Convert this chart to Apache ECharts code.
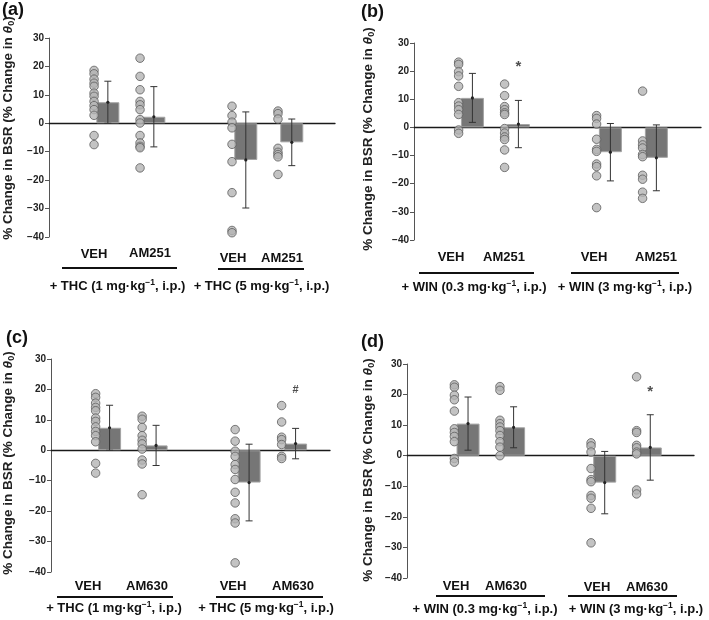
<!DOCTYPE html>
<html>
<head>
<meta charset="utf-8">
<script src="https://cdn.jsdelivr.net/npm/echarts@6/dist/echarts.min.js"></script>
<style>html,body{margin:0;padding:0;background:#fff}#c{width:709px;height:620px}</style>
</head>
<body>
<div id="c"></div>
<script>
// ---------- DATA ----------
const positions = [1, 2, 4, 5];
const tickValues = [-40, -30, -20, -10, 0, 10, 20, 30];

// Panel (a): THC + AM251
const a_veh1 = [18.6, 17.4, 15.5, 14.1, 13.0, 10.6, 9.5, 7.7, 6.2, 4.8, 2.8, -4.3, -7.5];
const a_am1  = [22.9, 16.5, 11.8, 7.7, 6.5, 4.8, 1.3, 0.1, -4.3, -6.9, -8.1, -8.6, -15.7];
const a_veh2 = [6.0, 2.7, 0.4, -1.6, -7.4, -13.5, -24.4, -37.7, -38.5];
const a_am2  = [4.3, 3.4, 1.5, -8.8, -10.2, -11.0, -11.8, -18.0];
const a_mean = [7.4, 2.3, -12.9, -6.7];
const a_sd   = [7.4, 10.6, 16.9, 8.2];

// Panel (b): WIN + AM251
const b_veh1 = [23.2, 22.4, 19.8, 18.3, 14.6, 8.8, 7.6, 6.3, 4.6, -0.9, -2.1];
const b_am1  = [15.4, 11.3, 7.4, 6.3, 5.2, 4.6, -0.4, -2.0, -3.4, -4.3, -8.0, -14.2];
const b_veh2 = [4.2, 3.2, 1.2, -4.2, -7.8, -8.5, -13.0, -13.9, -17.2, -28.5];
const b_am2  = [12.9, -4.8, -6.2, -7.3, -9.6, -10.4, -17.0, -18.4, -23.0, -25.2];
const b_mean = [10.5, 1.2, -8.8, -10.8];
const b_sd   = [8.7, 8.4, 10.2, 11.7];

// Panel (c): THC + AM630
const c_veh1 = [18.6, 17.4, 15.5, 14.1, 13.0, 10.6, 9.5, 7.7, 6.2, 4.8, 2.8, -4.3, -7.5];
const c_am1  = [11.2, 10.2, 7.5, 4.8, 3.3, 2.1, 0.4, -3.2, -4.5, -14.6];
const c_veh2 = [6.8, 3.0, -0.3, -2.0, -4.7, -6.3, -9.6, -13.8, -17.3, -22.5, -23.9, -37.0];
const c_am2  = [14.7, 9.3, 4.3, 3.5, 1.9, -2.0, -2.7];
const c_mean = [7.4, 1.6, -10.6, 2.2];
const c_sd   = [7.4, 6.6, 12.6, 5.0];

// Panel (d): WIN + AM630
const d_veh1 = [23.2, 22.4, 19.8, 18.3, 14.6, 8.8, 7.6, 6.3, 4.6, -0.9, -2.1];
const d_am1  = [22.6, 21.4, 11.6, 10.5, 9.4, 8.2, 6.6, 4.6, 2.8, 0.0];
const d_veh2 = [4.2, 3.2, 1.2, -4.2, -7.8, -8.5, -13.0, -13.9, -17.2, -28.5];
const d_am2  = [25.8, 8.2, 7.6, 3.4, 2.6, 1.2, 0.6, -11.2, -12.5];
const d_mean = [10.5, 9.3, -8.8, 2.7];
const d_sd   = [8.7, 6.7, 10.2, 10.7];

// Annotations [position, value, symbol]
const b_marks = [[2, 21.4, '*']];
const c_marks = [[5, 19.9, '#']];
const d_marks = [[5, 20.9, '*']];

// Labels
const panelLetters = ['(a)', '(b)', '(c)', '(d)'];
const catNamesAM251 = ['VEH', 'AM251', 'VEH', 'AM251'];
const catNamesAM630 = ['VEH', 'AM630', 'VEH', 'AM630'];
const groupTHC = [['+ THC (1 mg·kg', '−1', ', i.p.)'], ['+ THC (5 mg·kg', '−1', ', i.p.)']];
const groupWIN = [['+ WIN (0.3 mg·kg', '−1', ', i.p.)'], ['+ WIN (3 mg·kg', '−1', ', i.p.)']];

// ---------- LAYOUT ----------
const F = 'Liberation Sans, Arial, Helvetica, sans-serif';
const dotOffset = -0.3;
const panels = [
  {groups:[a_veh1,a_am1,a_veh2,a_am2], mean:a_mean, sd:a_sd, marks:[], cats:catNamesAM251, grpText:groupTHC,
   grid:{left:49,top:38,width:286,height:199}, xMin:-0.28, xMax:5.94,
   letter:[2,10], yTitle:[8,128], catPos:[[94,254],[150,253],[233,258],[282,258]],
   under:[[62,177,268],[218,304,269]], grpPos:[[117.5,286],[261.5,286]]},
  {groups:[b_veh1,b_am1,b_veh2,b_am2], mean:b_mean, sd:b_sd, marks:b_marks, cats:catNamesAM251, grpText:groupWIN,
   grid:{left:414,top:43,width:287,height:197}, xMin:-0.27, xMax:5.97,
   letter:[361,12.5], yTitle:[368,139], catPos:[[451,257],[504,257],[594,257],[656,257]],
   under:[[419,534,273],[571,679,273]], grpPos:[[474,287],[625,287]]},
  {groups:[c_veh1,c_am1,c_veh2,c_am2], mean:c_mean, sd:c_sd, marks:c_marks, cats:catNamesAM630, grpText:groupTHC,
   grid:{left:51,top:359,width:279,height:213}, xMin:-0.26, xMax:5.74,
   letter:[6,338.5], yTitle:[8.5,463], catPos:[[88,586],[147,586],[233,586],[293,586]],
   under:[[57,173,597],[216,323,597]], grpPos:[[114,608],[266,608]]},
  {groups:[d_veh1,d_am1,d_veh2,d_am2], mean:d_mean, sd:d_sd, marks:d_marks, cats:catNamesAM630, grpText:groupWIN,
   grid:{left:407,top:364,width:287,height:214}, xMin:-0.34, xMax:5.96,
   letter:[361,342.5], yTitle:[368,470], catPos:[[456,586],[506,586],[597,587],[647,587]],
   under:[[436,545,596],[568,677,596]], grpPos:[[485,609],[636,609]]}
];

const grids = [], xAxes = [], yAxes = [], series = [], graphics = [];

panels.forEach((p, i) => {
  grids.push(Object.assign({containLabel:false}, p.grid));
  xAxes.push({
    type:'value', gridIndex:i, min:p.xMin, max:p.xMax,
    axisLine:{show:true, onZero:true, lineStyle:{color:'#1a1a1a', width:1.3}},
    axisTick:{show:false}, axisLabel:{show:false}, splitLine:{show:false}
  });
  yAxes.push({
    type:'value', gridIndex:i, min:tickValues[0], max:tickValues[tickValues.length-1], interval:10,
    axisLine:{show:true, onZero:false, lineStyle:{color:'#555', width:1}},
    axisTick:{show:true, length:4, lineStyle:{color:'#555'}},
    axisLabel:{fontSize:10, fontWeight:'bold', color:'#222', fontFamily:F, margin:5,
      formatter:v => String(v).replace('-', '−')},
    splitLine:{show:false}
  });
  // bars
  series.push({
    type:'bar', xAxisIndex:i, yAxisIndex:i, barWidth:23, silent:true,
    itemStyle:{color:'#767676', borderColor:'#a3a3a3', borderWidth:1},
    data: positions.map((x,k) => [x, p.mean[k]])
  });
  // dots
  const dots = [];
  p.groups.forEach((g,k) => g.forEach(v => dots.push([positions[k] + dotOffset, v])));
  series.push({
    type:'scatter', xAxisIndex:i, yAxisIndex:i, symbolSize:8.5, silent:true, z:3,
    itemStyle:{color:'#b4b4b4', borderColor:'#5e5e5e', borderWidth:1},
    data:dots
  });
  // error bars
  series.push({
    type:'custom', xAxisIndex:i, yAxisIndex:i, silent:true, z:4,
    data: positions.map((x,k) => [x, p.mean[k], p.sd[k]]),
    encode:{x:0, y:1},
    renderItem:(params, api) => {
      const x = api.value(0), m = api.value(1), s = api.value(2);
      const t = api.coord([x, m + s]), b = api.coord([x, m - s]), c = api.coord([x, m]);
      const st = {stroke:'#333', lineWidth:1};
      return {type:'group', children:[
        {type:'line', shape:{x1:t[0], y1:t[1], x2:b[0], y2:b[1]}, style:st},
        {type:'line', shape:{x1:t[0]-3.5, y1:t[1], x2:t[0]+3.5, y2:t[1]}, style:st},
        {type:'line', shape:{x1:b[0]-3.5, y1:b[1], x2:b[0]+3.5, y2:b[1]}, style:st},
        {type:'circle', shape:{cx:c[0], cy:c[1], r:1.6}, style:{fill:'#222'}}
      ]};
    }
  });
  // annotations
  if (p.marks.length) {
    series.push({
      type:'scatter', xAxisIndex:i, yAxisIndex:i, symbolSize:1, silent:true,
      itemStyle:{color:'rgba(0,0,0,0)'},
      label:{show:true, position:'inside', formatter:pr => pr.data[2],
        fontFamily:F, fontWeight:'bold', color:'#222',
        fontSize: p.marks[0][2] === '#' ? 11 : 15},
      data:p.marks
    });
  }
  // panel letter
  graphics.push({type:'text', left:null, x:p.letter[0], y:p.letter[1],
    style:{text:panelLetters[i], font:'bold 18px ' + F, fill:'#111', verticalAlign:'middle', align:'left'}});
  // y-axis title
  graphics.push({type:'text', x:p.yTitle[0], y:p.yTitle[1], rotation:Math.PI/2,
    style:{text:'{t|% Change in BSR (% Change in }{th|θ}{sb|0}{t|)}', align:'center', verticalAlign:'middle',
      rich:{
        t:{fontFamily:F, fontWeight:'bold', fontSize:13.5, fill:'#222', color:'#222', lineHeight:16},
        th:{fontFamily:F, fontWeight:'bold', fontStyle:'italic', fontSize:13.5, fill:'#222', color:'#222', lineHeight:16},
        sb:{fontFamily:F, fontWeight:'bold', fontSize:9, fill:'#222', color:'#222', lineHeight:12, verticalAlign:'bottom'}
      }}});
  // category labels
  p.catPos.forEach((cp,k) => {
    graphics.push({type:'text', x:cp[0], y:cp[1],
      style:{text:p.cats[k], font:'bold 13px ' + F, fill:'#111', align:'center', verticalAlign:'middle'}});
  });
  // underlines
  p.under.forEach(u => {
    graphics.push({type:'line', shape:{x1:u[0], y1:u[2], x2:u[1], y2:u[2]}, style:{stroke:'#111', lineWidth:2}});
  });
  // group labels
  p.grpPos.forEach((gp,k) => {
    const g = p.grpText[k];
    graphics.push({type:'text', x:gp[0], y:gp[1],
      style:{text:'{a|' + g[0] + '}{s|' + g[1] + '}{a|' + g[2] + '}', align:'center', verticalAlign:'middle',
        rich:{
          a:{fontFamily:F, fontWeight:'bold', fontSize:13, fill:'#111', color:'#111', lineHeight:16},
          s:{fontFamily:F, fontWeight:'bold', fontSize:8.5, fill:'#111', color:'#111', lineHeight:16, verticalAlign:'top'}
        }}});
  });
});

const chart = echarts.init(document.getElementById('c'), null, {renderer:'canvas'});
chart.setOption({
  animation:false,
  backgroundColor:'#fff',
  grid:grids, xAxis:xAxes, yAxis:yAxes, series:series, graphic:graphics
});
</script>
</body>
</html>
